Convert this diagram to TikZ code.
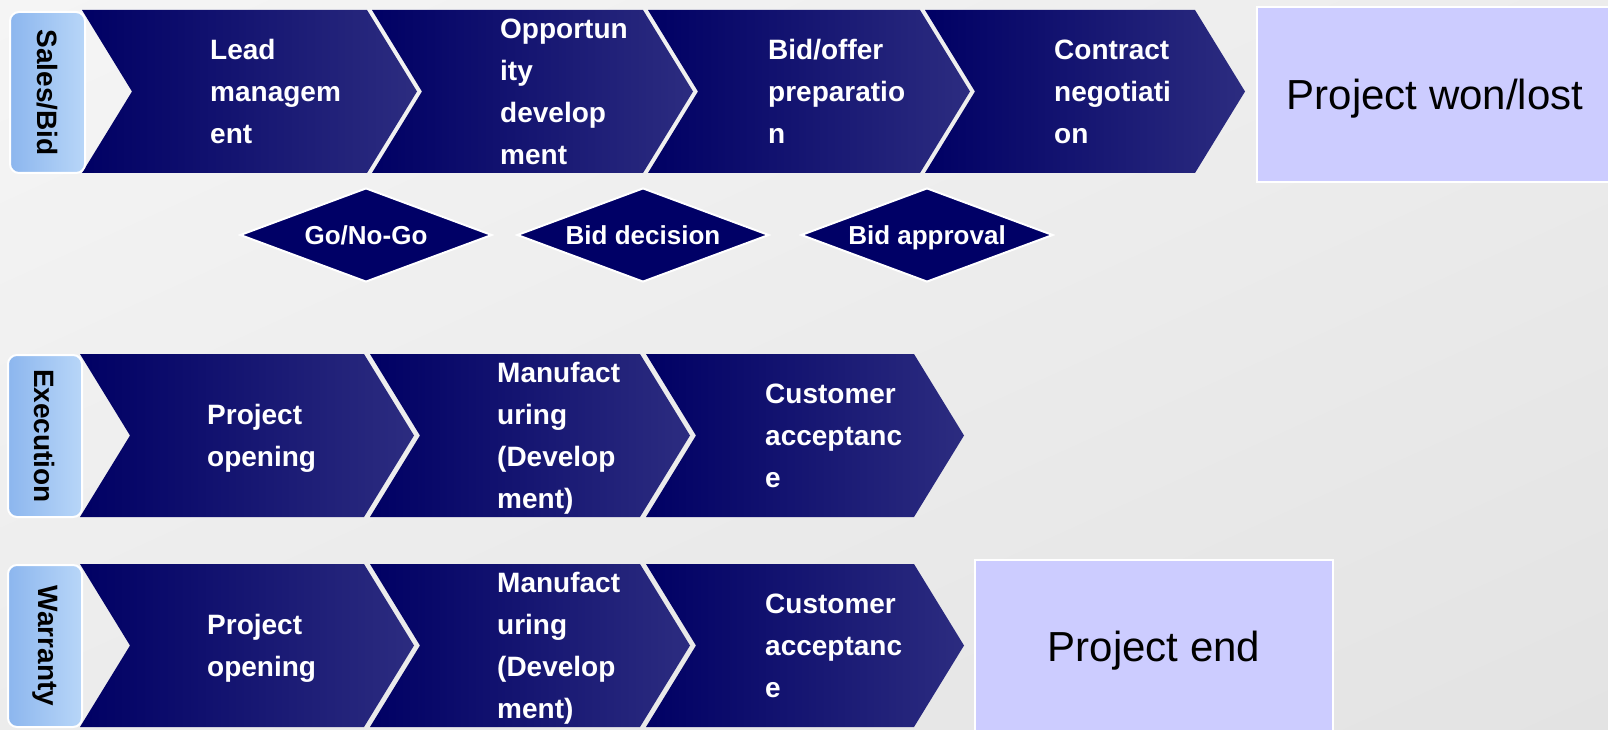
\documentclass[tikz,border=0pt]{standalone}
\usepackage{fontspec}
\usepackage{graphicx}
\setmainfont{Liberation Sans}
\usetikzlibrary{shapes.geometric,shadings}
\definecolor{bgA}{RGB}{245,245,245}
\definecolor{bgB}{RGB}{236,236,236}
\definecolor{bgC}{RGB}{227,227,227}
\definecolor{navyL}{RGB}{0,0,100}
\definecolor{navyR}{RGB}{44,44,128}
\definecolor{navy}{RGB}{0,0,102}
\definecolor{lblL}{RGB}{140,182,238}
\definecolor{lblR}{RGB}{184,214,248}
\definecolor{lav}{RGB}{204,204,255}
\newcommand\chevshape[5]{\shade[left color=navyL,right color=navyR] (#1,#3) -- (#2,#3) -- ({#2+50},#5) -- (#2,#4) -- (#1,#4) -- ({#1+50},#5) -- cycle;}
\begin{document}
\begin{tikzpicture}[x=1pt,y=-1pt,
  chevtext/.style={anchor=west, align=left, inner sep=0pt, text=white, font=\fontsize{28}{42}\selectfont\bfseries},
  labelbox/.style={draw=white, line width=2pt, rounded corners=9pt, left color=lblL, right color=lblR, inner sep=0pt, font=\fontsize{28}{34}\selectfont\bfseries},
  decision/.style={diamond, aspect=2.67, minimum width=252pt, minimum height=94pt, fill=navy, draw=white, line width=2pt, inner sep=0pt, text=white, text height=19pt, text depth=0pt, font=\fontsize{26}{30}\selectfont\bfseries},
  endbox/.style={fill=lav, draw=white, line width=2pt, inner sep=0pt, text height=30pt, text depth=0pt, font=\fontsize{42}{50}\selectfont}]
\clip (0,0) rectangle (1608,730);
\shade[upper left=bgA, upper right=bgB, lower left=bgB, lower right=bgC] (0,0) rectangle (1608,730);

% Row 1: Sales/Bid
\chevshape{82}{367}{10}{173}{91.5}
\chevshape{372}{643}{10}{173}{91.5}
\chevshape{648}{920}{10}{173}{91.5}
\chevshape{925}{1195}{10}{173}{91.5}
\node[labelbox, minimum width=75pt, minimum height=161pt] (sales) at (47.5,92.5) {\rotatebox{-90}{Sales/Bid}};
\node[chevtext] (lead) at (210,93.5) {\strut Lead\\\strut managem\\\strut ent};
\node[chevtext] (opp) at (500,93.5) {\strut Opportun\\\strut ity\\\strut develop\\\strut ment};
\node[chevtext] (bidoffer) at (768,93.5) {\strut Bid/offer\\\strut preparatio\\\strut n};
\node[chevtext] (contract) at (1054,93.5) {\strut Contract\\\strut negotiati\\\strut on};
\node[endbox, minimum width=356pt, minimum height=175pt] (won) at (1435,94.5) {Project won/lost};

% Decisions
\node[decision] (gonogo) at (366,235) {Go/No-Go};
\node[decision] (biddec) at (643,235) {Bid decision};
\node[decision] (bidapp) at (927,235) {Bid approval};

% Row 2: Execution
\chevshape{80}{364}{354}{517}{435.5}
\chevshape{370}{640}{354}{517}{435.5}
\chevshape{646}{914}{354}{517}{435.5}
\node[labelbox, minimum width=74pt, minimum height=162pt] (exec) at (45,436) {\rotatebox{-90}{Execution}};
\node[chevtext] (eopen) at (207,437.5) {\strut Project\\\strut opening};
\node[chevtext] (emanu) at (497,437.5) {\strut Manufact\\\strut uring\\\strut (Develop\\\strut ment)};
\node[chevtext] (ecust) at (765,437.5) {\strut Customer\\\strut acceptanc\\\strut e};

% Row 3: Warranty
\chevshape{80}{364}{564}{727}{645.5}
\chevshape{370}{640}{564}{727}{645.5}
\chevshape{646}{914}{564}{727}{645.5}
\node[labelbox, minimum width=74pt, minimum height=162pt] (warr) at (45,646) {\rotatebox{-90}{Warranty}};
\node[chevtext] (wopen) at (207,647.5) {\strut Project\\\strut opening};
\node[chevtext] (wmanu) at (497,647.5) {\strut Manufact\\\strut uring\\\strut (Develop\\\strut ment)};
\node[chevtext] (wcust) at (765,647.5) {\strut Customer\\\strut acceptanc\\\strut e};
\node[endbox, minimum width=358pt, minimum height=172pt] (pend) at (1154,646) {Project end};
\end{tikzpicture}
\end{document}
